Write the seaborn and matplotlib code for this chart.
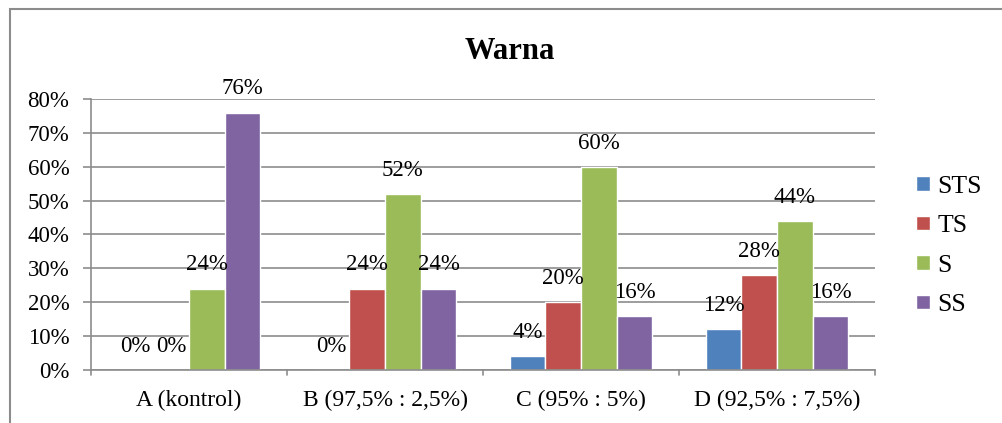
import matplotlib
matplotlib.use("Agg")
import matplotlib.pyplot as plt
from matplotlib.patches import Rectangle
import seaborn as sns
import pandas as pd

categories = ["A (kontrol)", "B (97,5% : 2,5%)", "C (95% : 5%)", "D (92,5% : 7,5%)"]
series = ["STS", "TS", "S", "SS"]
sts = [0, 0, 4, 12]
ts = [0, 24, 20, 28]
s = [24, 52, 60, 44]
ss = [76, 24, 16, 16]
colors = ["#4F81BD", "#C0504D", "#9BBB59", "#8064A2"]

rows = []
for name, vals in zip(series, [sts, ts, s, ss]):
    for cat, v in zip(categories, vals):
        rows.append({"kategori": cat, "kelompok": name, "nilai": v})
df = pd.DataFrame(rows)

sns.set_theme(style="white")
plt.rcParams["font.family"] = ["Liberation Serif", "DejaVu Serif"]
plt.rcParams["text.color"] = "black"
plt.rcParams["xtick.color"] = "black"
plt.rcParams["ytick.color"] = "black"

fig = plt.figure(figsize=(10.02, 4.23), dpi=100)
ax = fig.add_axes([0.0908, 0.1253, 0.7825, 0.6407])

sns.barplot(data=df, x="kategori", y="nilai", hue="kelompok", hue_order=series,
            order=categories, palette=colors, width=4 / 5.5, saturation=1,
            errorbar=None, ax=ax, legend=True)

for cont in ax.containers:
    ax.bar_label(cont, labels=[f"{int(round(b.get_height()))}%" for b in cont],
                 fontsize=16.5, padding=9.5, color="black")

grid_c = "#8C8C8C"
ax.set_ylim(0, 80)
ax.set_xlim(-0.5, 3.5)
ax.set_yticks(range(0, 81, 10))
ax.set_yticklabels([f"{v}%" for v in range(0, 81, 10)], fontsize=16.5)
ax.yaxis.grid(True, color=grid_c, linewidth=1.2)
ax.set_axisbelow(True)
ax.tick_params(axis="y", length=5.5, color=grid_c, width=1.2, pad=10, left=True,
               labelcolor="black")
ax.set_xticks(range(4))
ax.set_xticklabels(categories, fontsize=17)
ax.tick_params(axis="x", length=0, pad=14.5, labelcolor="black")
for b in [-0.5, 0.5, 1.5, 2.5, 3.5]:
    ax.plot([b, b], [0, -0.02], transform=ax.get_xaxis_transform(),
            color=grid_c, lw=1.2, clip_on=False)
ax.set_xlabel("")
ax.set_ylabel("")
for side in ["top", "right"]:
    ax.spines[side].set_visible(False)
for side in ["left", "bottom"]:
    ax.spines[side].set_color(grid_c)
    ax.spines[side].set_linewidth(1.2)

leg = ax.legend(loc="center left", bbox_to_anchor=(1.052, 0.458), frameon=False,
                prop={"family": "Liberation Serif", "size": 18.5},
                handlelength=0.55, handleheight=0.5,
                handletextpad=0.3, labelspacing=0.68, borderaxespad=0,
                borderpad=0)
for t in leg.get_texts():
    t.set_color("black")

fig.text(509.5 / 1002, 1 - 59 / 423, "Warna", ha="center", va="baseline",
         fontsize=22, fontweight="bold", color="black")

fig.patches.append(Rectangle((10 / 1002, -0.1), 1.2, 1.1 - 9 / 423,
                             transform=fig.transFigure, fill=False,
                             edgecolor="#8C8C8C", linewidth=1.5))

fig.savefig("out.png", dpi=100)
